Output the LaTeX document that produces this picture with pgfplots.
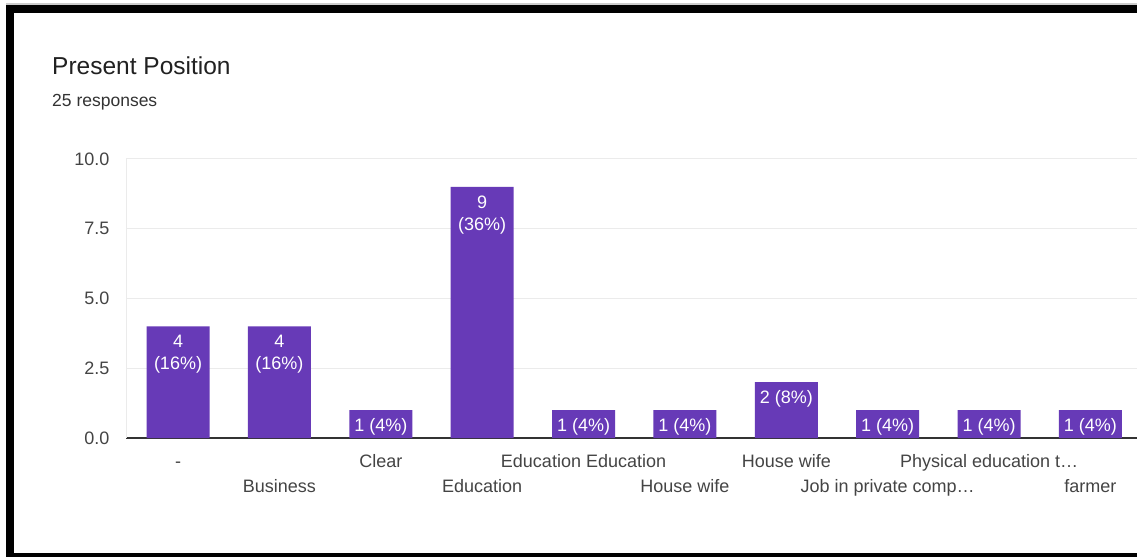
\documentclass[border=0pt]{standalone}
\usepackage{fontspec}
\setmainfont{Liberation Sans}
\usepackage{pgfplots}
\pgfplotsset{compat=1.18}
\definecolor{barpurple}{HTML}{673AB7}
\definecolor{ticktext}{HTML}{444444}
\definecolor{gridc}{HTML}{EBEBEB}
\definecolor{titlec}{HTML}{212121}
\definecolor{subc}{HTML}{333333}
\definecolor{axisc}{HTML}{333333}
\begin{document}
\begin{tikzpicture}
\path[fill=white, use as bounding box] (0pt,0pt) rectangle (1137pt,557pt);
\fill[black!20] (6pt,552pt) rectangle (1137pt,554pt);
\fill[black] (6pt,544.3pt) rectangle (1137pt,552.3pt);
\fill[black] (6pt,0pt) rectangle (14pt,552.3pt);
\fill[black] (6pt,0pt) rectangle (1137pt,4pt);
\node[anchor=base west, font=\fontsize{24.5}{29}\selectfont, text=titlec, inner sep=0] at (52pt,482pt) {Present Position};
\node[anchor=base west, font=\fontsize{17.5}{21}\selectfont, text=subc, inner sep=0] at (52pt,450pt) {25 responses};
\begin{axis}[
  at={(126pt,119pt)}, anchor=south west,
  scale only axis, width=1011pt, height=279pt,
  xmin=-0.513, xmax=9.459, ymin=0, ymax=10,
  axis x line*=bottom, axis y line*=left,
  x axis line style={axisc, line width=1.3pt},
  y axis line style={gridc, line width=1pt},
  ytick={0,2.5,5,7.5,10},
  ymajorgrids, grid style={gridc, line width=1pt},
  major tick length=0pt, tick style={draw=none},
  /pgf/number format/.cd, fixed, fixed zerofill, precision=1, assume math mode=true,
  /pgfplots/.cd,
  yticklabel style={font=\fontsize{18}{21}\selectfont, text=ticktext, xshift=-13pt},
  xticklabel style={font=\fontsize{18}{21}\selectfont, text=ticktext, yshift=-13pt,
    text height=13pt, text depth=4pt},
  xtick={0,2,4,6,8},
  xticklabels={-, Clear, Education Education, House wife, Physical education t…},
  extra x ticks={1,3,5,7,9},
  extra x tick labels={Business, Education, House wife, Job in private comp…, farmer},
  extra x tick style={xticklabel style={yshift=-25pt}},
]
\addplot[ybar, fill=barpurple, draw=none, bar width=63pt,
  nodes near coords, point meta=explicit symbolic,
  every node near coord/.append style={anchor=north, inner sep=0pt, yshift=-8.5pt,
    text=white, align=center, font=\fontsize{18}{22}\selectfont}]
coordinates {
(0,4) [{4\\(16\%)}]
(1,4) [{4\\(16\%)}]
(2,1) [{1 (4\%)}]
(3,9) [{9\\(36\%)}]
(4,1) [{1 (4\%)}]
(5,1) [{1 (4\%)}]
(6,2) [{2 (8\%)}]
(7,1) [{1 (4\%)}]
(8,1) [{1 (4\%)}]
(9,1) [{1 (4\%)}]
};
\end{axis}
\end{tikzpicture}
\end{document}
